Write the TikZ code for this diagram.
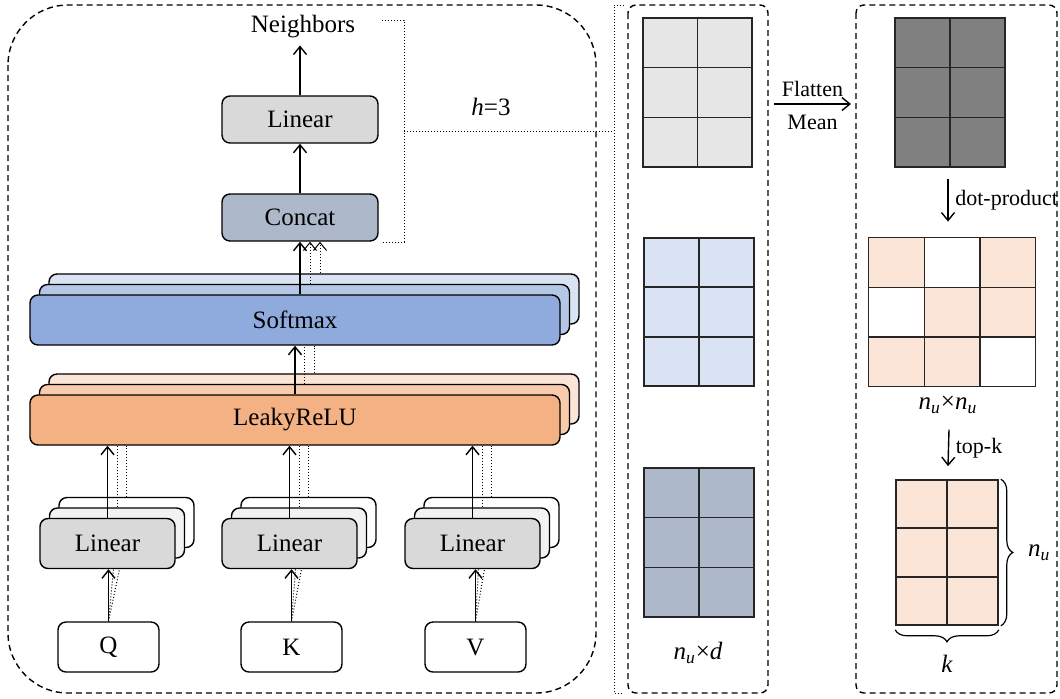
\documentclass[tikz,border=0pt]{standalone}
\usepackage{fontspec}
\setmainfont{Liberation Serif}
\usepackage{tikz}
\usetikzlibrary{arrows.meta,calc,decorations.pathreplacing}
\usepackage{xcolor}

\definecolor{lingray}{HTML}{D9D9D9}
\definecolor{linmid}{HTML}{F2F2F2}
\definecolor{catblue}{HTML}{ADB9CA}
\definecolor{smfront}{HTML}{8FAADC}
\definecolor{smmid}{HTML}{B4C7E7}
\definecolor{smback}{HTML}{DAE3F3}
\definecolor{lkfront}{HTML}{F4B183}
\definecolor{lkmid}{HTML}{F8CBAD}
\definecolor{lkback}{HTML}{FBE5D6}
\definecolor{cellgray}{HTML}{E7E6E6}
\definecolor{celldark}{HTML}{808080}
\definecolor{matline}{HTML}{262626}

\newcommand{\nuu}{\textit{n}\textsubscript{\textit{u}}}

\begin{document}
\begin{tikzpicture}[x=0.5pt,y=-0.5pt,>={Straight Barb[length=4pt,width=6.5pt]},
  font=\fontsize{12.5}{15}\selectfont,
  blk/.style={draw,line width=0.7pt,rounded corners=4pt,inner sep=0pt},
  wide/.style={blk,minimum width=265pt,minimum height=25pt},
  lin/.style={blk,minimum width=67.5pt,minimum height=25pt},
  inbox/.style={blk,fill=white,minimum width=50.5pt,minimum height=25pt},
  topbox/.style={blk,minimum width=78pt,minimum height=23.5pt},
  mat/.style={draw=matline,line width=0.8pt,inner sep=0pt},
  matgrid/.style={matline,line width=0.8pt},
  panel/.style={line width=0.7pt,dash pattern=on 3pt off 2pt},
  bracket/.style={densely dotted,line width=0.5pt},
  small/.style={font=\fontsize{11}{13}\selectfont}]
\useasboundingbox (0,0) rectangle (1060,698);

\draw[panel,rounded corners=30pt] (8,5) rectangle (596,693);

\node (nbr) at (303,27) {Neighbors};
\node[topbox,fill=lingray] (lintop) at (300,119.5) {Linear};
\node[topbox,fill=catblue] (concat) at (300,217.5) {Concat};

\node[wide,fill=smback] (sm3) at (314,299) {};
\node[wide,fill=smmid] (sm2) at (304.5,309.5) {};
\node[wide,fill=smfront] (sm1) at (295,320) {Softmax};

\node[wide,fill=lkback] (lk3) at (314,399) {};
\node[wide,fill=lkmid] (lk2) at (304.5,409.5) {};
\node[wide,fill=lkfront] (lk1) at (295,420) {LeakyReLU};

\node[lin,fill=white] (ql3) at (126.5,522.5) {};
\node[lin,fill=linmid] (ql2) at (117,533) {};
\node[lin,fill=lingray] (ql1) at (107.5,543.5) {Linear};
\node[lin,fill=white] (kl3) at (308.5,522.5) {};
\node[lin,fill=linmid] (kl2) at (299,533) {};
\node[lin,fill=lingray] (kl1) at (289.5,543.5) {Linear};
\node[lin,fill=white] (vl3) at (491.5,522.5) {};
\node[lin,fill=linmid] (vl2) at (482,533) {};
\node[lin,fill=lingray] (vl1) at (472.5,543.5) {Linear};

\node[inbox] (q) at (108.5,647) {Q};
\node[inbox] (k) at (291.5,647) {K};
\node[inbox] (v) at (475.5,647) {V};

\draw[->,line width=0.7pt] (q.north) -- (q.north |- ql1.south);
\draw[bracket] (q.north) -- ([xshift=3pt]ql1.south);
\draw[bracket] (q.north) -- ([xshift=6pt]ql1.south);
\draw[->,line width=0.7pt] (k.north) -- (k.north |- kl1.south);
\draw[bracket] (k.north) -- ([xshift=3pt]kl1.south);
\draw[bracket] (k.north) -- ([xshift=6pt]kl1.south);
\draw[->,line width=0.7pt] (v.north) -- (v.north |- vl1.south);
\draw[bracket] (v.north) -- ([xshift=3pt]vl1.south);
\draw[bracket] (v.north) -- ([xshift=6pt]vl1.south);

\draw[->,line width=0.7pt] (ql1.north) -- (ql1.north |- lk1.south);
\draw[bracket] (ql2.north) -- (ql2.north |- lk1.south);
\draw[bracket] (ql3.north) -- (ql3.north |- lk1.south);
\draw[->,line width=0.7pt] (kl1.north) -- (kl1.north |- lk1.south);
\draw[bracket] (kl2.north) -- (kl2.north |- lk1.south);
\draw[bracket] (kl3.north) -- (kl3.north |- lk1.south);
\draw[->,line width=0.7pt] (vl1.north) -- (vl1.north |- lk1.south);
\draw[bracket] (vl2.north) -- (vl2.north |- lk1.south);
\draw[bracket] (vl3.north) -- (vl3.north |- lk1.south);

\draw[->,line width=0.7pt] (lk1.north) -- (lk1.north |- sm1.south);
\draw[bracket] (lk2.north) -- (lk2.north |- sm1.south);
\draw[bracket] (lk3.north) -- (lk3.north |- sm1.south);

\draw[->,line width=0.7pt] (concat.south |- sm1.north) -- (concat.south);
\draw[->,bracket] ([xshift=5pt]concat.south |- sm2.north) -- ([xshift=5pt]concat.south);
\draw[->,bracket] ([xshift=10pt]concat.south |- sm3.north) -- ([xshift=10pt]concat.south);
\draw[->,line width=0.7pt] (concat.north) -- (lintop.south);
\draw[->,line width=0.7pt] (lintop.north) -- (lintop.north |- nbr.south);

\draw[bracket] (382,20) -- (404,20) -- (404,242) -- (382,242);
\draw[bracket] (624,5) -- (614,5) -- (614,693) -- (624,693);
\coordinate (hl) at (404,131);
\coordinate (hr) at (614,131);
\draw[bracket] (hl) -- (hr);
\node (hh) at (491,107) {\textit{h}=3};

\draw[panel,rounded corners=4pt] (628,5) rectangle (768,693);
\node[mat,fill=cellgray,minimum width=54.75pt,minimum height=74.5pt] (g1) at (697.5,92.5) {};
\draw[matgrid] (g1.north) -- (g1.south)
  ($(g1.north west)!1/3!(g1.south west)$) -- ($(g1.north east)!1/3!(g1.south east)$)
  ($(g1.north west)!2/3!(g1.south west)$) -- ($(g1.north east)!2/3!(g1.south east)$);
\node[mat,fill=smback,minimum width=55pt,minimum height=74pt] (g2) at (699,312) {};
\draw[matgrid] (g2.north) -- (g2.south)
  ($(g2.north west)!1/3!(g2.south west)$) -- ($(g2.north east)!1/3!(g2.south east)$)
  ($(g2.north west)!2/3!(g2.south west)$) -- ($(g2.north east)!2/3!(g2.south east)$);
\node[mat,fill=catblue,minimum width=55pt,minimum height=74.5pt] (g3) at (699,542.5) {};
\draw[matgrid] (g3.north) -- (g3.south)
  ($(g3.north west)!1/3!(g3.south west)$) -- ($(g3.north east)!1/3!(g3.south east)$)
  ($(g3.north west)!2/3!(g3.south west)$) -- ($(g3.north east)!2/3!(g3.south east)$);
\node (lblnd) at (698,653) {\nuu×\textit{d}};

\coordinate (fa) at (774,104);
\coordinate (fb) at (851,104);
\draw[->,line width=0.7pt] (fa) -- (fb) node[midway,above,small]{Flatten} node[midway,below=2pt,small]{Mean};

\draw[panel,rounded corners=4pt] (856,5) rectangle (1057,693);
\node[mat,fill=celldark,minimum width=55pt,minimum height=74.5pt] (gd) at (950,92.5) {};
\draw[matgrid] (gd.north) -- (gd.south)
  ($(gd.north west)!1/3!(gd.south west)$) -- ($(gd.north east)!1/3!(gd.south east)$)
  ($(gd.north west)!2/3!(gd.south west)$) -- ($(gd.north east)!2/3!(gd.south east)$);

\node[inner sep=0pt,fill=lkback,minimum width=83pt,minimum height=74pt] (gs) at (952,312) {};
\fill[white] (924.3,238) rectangle (979.7,287.3) (869,287.3) rectangle (924.3,336.7) (979.7,336.7) rectangle (1035,386);
\draw[matgrid] (gs.north west) rectangle (gs.south east)
  (924.3,238) -- (924.3,386) (979.7,238) -- (979.7,386)
  (869,287.3) -- (1035,287.3) (869,336.7) -- (1035,336.7);
\draw[->,line width=0.7pt] ([xshift=-1pt,yshift=-5.5pt]gd.south) -- ([xshift=-2pt,yshift=8pt]gs.north) node[midway,right,small]{dot-product};
\node (lblnn) at (948,405) {\nuu×\nuu};

\node[mat,fill=lkback,minimum width=51pt,minimum height=72.5pt] (gk) at (947,552.5) {};
\draw[matgrid] (gk.north) -- (gk.south)
  ($(gk.north west)!1/3!(gk.south west)$) -- ($(gk.north east)!1/3!(gk.south east)$)
  ($(gk.north west)!2/3!(gk.south west)$) -- ($(gk.north east)!2/3!(gk.south east)$);
\draw[->,line width=0.7pt] ([xshift=0.5pt,yshift=-4.5pt]lblnn.south) -- ([xshift=0.5pt,yshift=6.5pt]gk.north) node[midway,right,small]{top-k};
\draw[decorate,decoration={brace,amplitude=6pt},line width=0.6pt] ([xshift=1pt]gk.north east) -- ([xshift=1pt]gk.south east) node[midway,right=10pt]{\nuu};
\draw[decorate,decoration={brace,amplitude=6pt},line width=0.6pt] ([yshift=-2pt]gk.south east) -- ([yshift=-2pt]gk.south west) node[midway,below=9pt]{\textit{k}};
\end{tikzpicture}
\end{document}
